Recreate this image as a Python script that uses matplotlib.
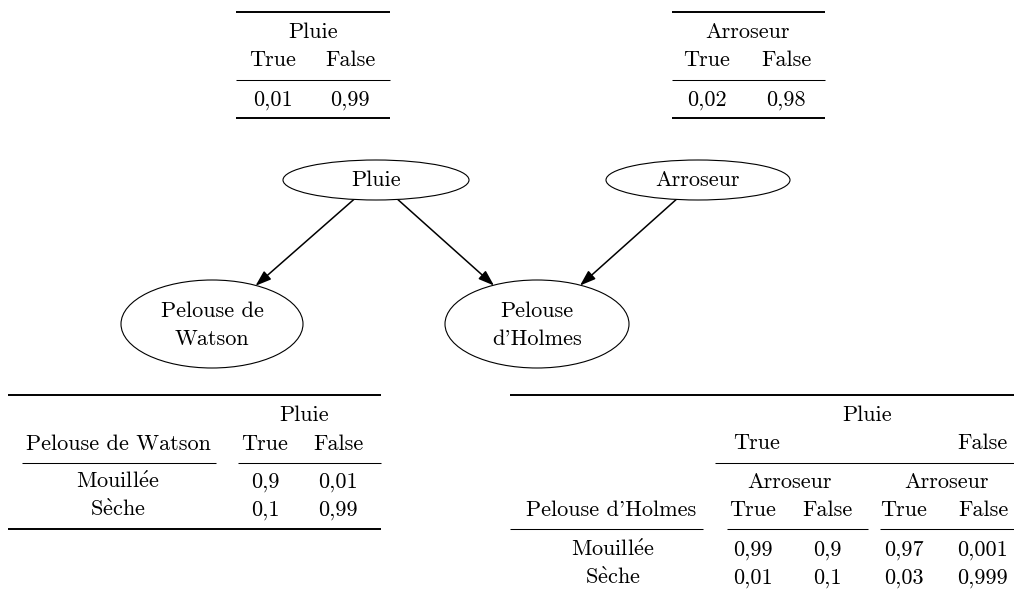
import matplotlib
matplotlib.use("Agg")
import matplotlib.pyplot as plt
from matplotlib.patches import Ellipse

plt.rcParams['font.family'] = ['cmr10', 'DejaVu Serif']
plt.rcParams['mathtext.fontset'] = 'cm'
plt.rcParams['axes.unicode_minus'] = False

# ---- data ----
states = ["True", "False"]
p_pluie = [0.01, 0.99]
p_arroseur = [0.02, 0.98]
grass_states = ["Mouillée", "Sèche"]
watson_vals = [[0.9, 0.01], [0.1, 0.99]]
holmes_vals = [[0.99, 0.9, 0.97, 0.001], [0.01, 0.1, 0.03, 0.999]]
node_names = ["Pluie", "Arroseur", "Pelouse de\nWatson", "Pelouse\nd'Holmes"]
edges = [(0, 2), (0, 3), (1, 3)]


def fmt(v):
    return f"{v:g}".replace(".", ",")


def label(s):
    # cmr10 lacks accented glyphs: render such words with Computer Modern mathtext
    if "é" in s or "è" in s:
        body = s.replace("é", r"\acute{e}").replace("è", r"\grave{e}").replace(" ", r"\ ")
        return r"$\mathrm{" + body + "}$"
    return s


FS = 16
fig = plt.figure(figsize=(10.14, 5.94), dpi=100)
ax = fig.add_axes([0, 0, 1, 1])
ax.set_xlim(0, 1014)
ax.set_ylim(594, 0)
ax.axis("off")

THICK = 1.4
THIN = 0.75


def rule(x0, x1, y, lw):
    ax.plot([x0, x1], [y, y], color="black", lw=lw, solid_capstyle="butt")


def txt(x, y, s, ha="center"):
    ax.text(x, y, label(s), ha=ha, va="baseline", fontsize=FS)


# ---- top-left: Pluie ----
rule(236, 390, 12, THICK)
txt(313, 38, "Pluie")
for x, s, v in zip([273, 350], states, p_pluie):
    txt(x, 66, s)
    txt(x, 106, fmt(v))
rule(236, 390, 80, THIN)
rule(236, 390, 118, THICK)

# ---- top-right: Arroseur ----
rule(672, 825, 12, THICK)
txt(748, 38, "Arroseur")
for x, s, v in zip([707, 786], states, p_arroseur):
    txt(x, 66, s)
    txt(x, 106, fmt(v))
rule(672, 825, 80, THIN)
rule(672, 825, 118, THICK)

# ---- network ----
centers = [(376, 180), (698, 180), (212, 324), (537, 324)]
sizes = [(186, 40), (184, 40), (182, 88), (184, 88)]
patches = []
for (cx, cy), (w, h), name in zip(centers, sizes, node_names):
    e = Ellipse((cx, cy), w, h, facecolor="white", edgecolor="black", lw=0.8, zorder=2)
    ax.add_patch(e)
    patches.append(e)
    lines = name.split("\n")
    if len(lines) == 1:
        ax.text(cx, cy + 6, lines[0], ha="center", va="baseline", fontsize=FS, zorder=3)
    else:
        ax.text(cx, cy - 7, lines[0], ha="center", va="baseline", fontsize=FS, zorder=3)
        ax.text(cx, cy + 21, lines[1], ha="center", va="baseline", fontsize=FS, zorder=3)

for a, b in edges:
    ax.annotate("", xy=centers[b], xytext=centers[a],
                arrowprops=dict(arrowstyle="-|>,head_length=0.95,head_width=0.33",
                                mutation_scale=10, color="black", lw=1.1,
                                patchA=patches[a], patchB=patches[b],
                                shrinkA=0, shrinkB=0),
                zorder=1)

# ---- bottom-left: Watson ----
rule(8, 381, 395, THICK)
txt(304, 421, "Pluie")
txt(118, 450, "Pelouse de Watson")
wcols = [265, 338]
for x, s in zip(wcols, states):
    txt(x, 450, s)
rule(22, 216, 463, THIN)
rule(238, 381, 463, THIN)
for j, (lab, row) in enumerate(zip(grass_states, watson_vals)):
    y = 488 + 28 * j
    txt(118, y, lab)
    for x, v in zip(wcols, row):
        txt(x, y, fmt(v))
rule(8, 381, 529, THICK)

# ---- bottom-right: Holmes ----
rule(510, 1014, 395, THICK)
txt(867, 421, "Pluie")
txt(733, 449, "True", ha="left")
txt(1008, 449, "False", ha="right")
rule(715, 1014, 463, THIN)
txt(790, 488, "Arroseur")
txt(947, 488, "Arroseur")
hcols = [753, 827, 904, 983]
txt(611, 516, "Pelouse d'Holmes")
for x, s in zip(hcols, states * 2):
    txt(x, 516, s)
rule(510, 703, 529, THIN)
rule(727, 868, 529, THIN)
rule(880, 1014, 529, THIN)
for j, (lab, row) in enumerate(zip(grass_states, holmes_vals)):
    y = 556 + 28 * j
    txt(613, y, lab)
    for x, v in zip(hcols, row):
        txt(x, y, fmt(v))

fig.savefig("out.png", dpi=100, facecolor="white")
